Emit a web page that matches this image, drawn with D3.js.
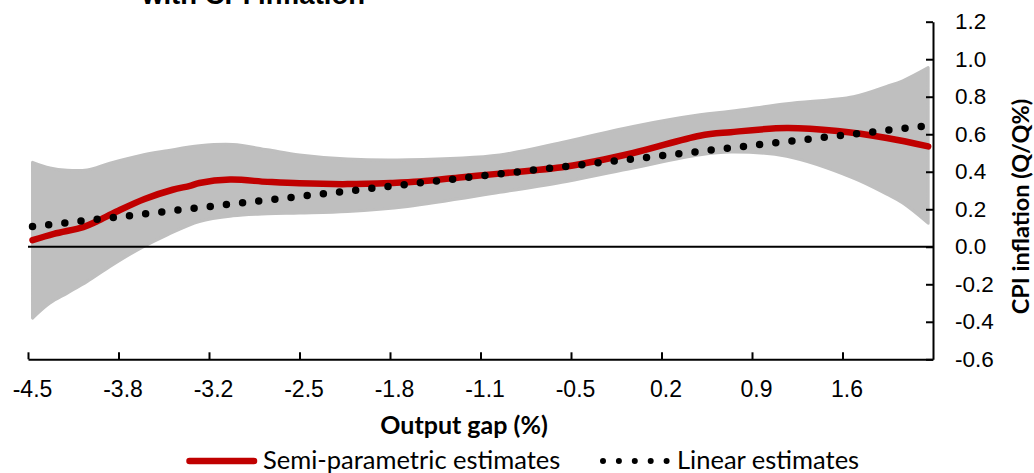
<!DOCTYPE html>
<html>
<head>
<meta charset="utf-8">
<script src="https://cdn.jsdelivr.net/npm/d3@7"></script>
<style>
  html, body { margin: 0; padding: 0; background: #fff; }
  svg { display: block; }
</style>
</head>
<body>
<svg id="chart" width="1034" height="473"></svg>
<script>
// Output-gap category grid (100 evenly spaced categories)
const gapStart = -4.5;
const gapStep = 0.0678;
const nCats = 100;
const labelEvery = 10;

const xTickLabels = ["-4.5", "-3.8", "-3.2", "-2.5", "-1.8", "-1.1", "-0.5", "0.2", "0.9", "1.6"];
const yTickValues = [-0.6, -0.4, -0.2, 0.0, 0.2, 0.4, 0.6, 0.8, 1.0, 1.2];
const yTickLabels = ["-0.6", "-0.4", "-0.2", "0.0", "0.2", "0.4", "0.6", "0.8", "1.0", "1.2"];

// Semi-parametric estimate
const semiGap = [-4.50, -4.34, -4.12, -4.02, -3.87, -3.66, -3.45, -3.32, -3.25, -3.02, -2.74, -2.50,
                 -2.14, -1.82, -1.60, -1.28, -1.00, -0.50, 0.00, 0.50, 0.73, 1.15, 1.53, 1.90, 2.21];
const semiVal = [0.035, 0.069, 0.105, 0.135, 0.188, 0.255, 0.304, 0.325, 0.340, 0.358, 0.346, 0.338,
                 0.334, 0.340, 0.348, 0.371, 0.390, 0.428, 0.500, 0.592, 0.611, 0.633, 0.617, 0.580, 0.535];

// Confidence band around the semi-parametric estimate
const bandGap   = [-4.50, -4.37, -4.24, -4.09, -3.92, -3.69, -3.49, -3.25, -3.00, -2.74, -2.50, -2.14,
                   -1.69, -1.00, -0.50, 0.00, 0.50, 0.73, 1.15, 1.65, 1.90, 2.02, 2.21];
const bandUpper = [0.450, 0.420, 0.408, 0.410, 0.446, 0.487, 0.512, 0.538, 0.545, 0.517, 0.490, 0.468,
                   0.464, 0.490, 0.562, 0.642, 0.704, 0.722, 0.763, 0.800, 0.855, 0.885, 0.955];
const bandLower = [-0.380, -0.300, -0.247, -0.185, -0.105, -0.007, 0.064, 0.135, 0.165, 0.176, 0.180, 0.188,
                   0.215, 0.290, 0.348, 0.420, 0.490, 0.505, 0.482, 0.366, 0.280, 0.233, 0.126];

// Linear estimate
const linearGap = [-4.500, -3.822, -3.144, -2.466, -1.788, -1.110, -0.432, 0.246, 0.924, 1.602, 2.212];
const linearVal = [0.108, 0.162, 0.217, 0.271, 0.325, 0.380, 0.434, 0.488, 0.543, 0.597, 0.646];

const RED = "#C00000";
const GREY = "#BFBFBF";
const ARIAL = "'Liberation Sans', Arial, sans-serif";
const CAL = "Lato, 'Open Sans', sans-serif";

const svg = d3.select("#chart");

const plot = { left: 28, right: 933, top: 21.7, bottom: 359.3 };

const x = d3.scaleLinear()
  .domain([gapStart - gapStep / 2, gapStart + (nCats - 0.5) * gapStep])
  .range([plot.left, plot.right]);

const y = d3.scaleLinear()
  .domain([-0.6, 1.2])
  .range([plot.bottom, plot.top]);

// Band
const upperPts = bandGap.map((g, i) => [g, bandUpper[i]]);
const lowerPts = bandGap.map((g, i) => [g, bandLower[i]]).reverse();
const bandLine = d3.line().x(d => x(d[0])).y(d => y(d[1])).curve(d3.curveCatmullRom.alpha(0.5));
const bandPath = bandLine(upperPts) + "L" + bandLine(lowerPts).slice(1) + "Z";
svg.append("path")
  .attr("d", bandPath)
  .attr("fill", GREY)
  .attr("stroke", GREY)
  .attr("stroke-width", 3)
  .attr("stroke-linejoin", "round");

// Zero line
svg.append("line")
  .attr("x1", plot.left).attr("x2", plot.right)
  .attr("y1", y(0)).attr("y2", y(0))
  .attr("stroke", "#000").attr("stroke-width", 2);

// Semi-parametric curve
svg.append("path")
  .datum(semiGap.map((g, i) => [g, semiVal[i]]))
  .attr("d", d3.line().x(d => x(d[0])).y(d => y(d[1])).curve(d3.curveCatmullRom.alpha(0.5)))
  .attr("fill", "none")
  .attr("stroke", RED)
  .attr("stroke-width", 6.5)
  .attr("stroke-linecap", "round")
  .attr("stroke-linejoin", "round");

// Linear estimate, round-dot line
svg.append("path")
  .datum(linearGap.map((g, i) => [g, linearVal[i]]))
  .attr("d", d3.line().x(d => x(d[0])).y(d => y(d[1])))
  .attr("fill", "none")
  .attr("stroke", "#000")
  .attr("stroke-width", 7.5)
  .attr("stroke-linecap", "round")
  .attr("stroke-dasharray", "0 16.26");

// X axis (ticks at category-group boundaries)
const boundaries = d3.range(0, nCats, labelEvery).map(i => gapStart + (i - 0.5) * gapStep);
const xAxis = svg.append("g")
  .attr("transform", `translate(0,${plot.bottom})`)
  .call(d3.axisBottom(x).tickValues(boundaries).tickSizeInner(-7).tickSizeOuter(0).tickFormat(""));
xAxis.select(".domain").attr("stroke", "#000").attr("stroke-width", 2);
xAxis.selectAll(".tick line").attr("stroke", "#000").attr("stroke-width", 2);

// X tick labels centred on their categories
svg.append("g")
  .selectAll("text")
  .data(xTickLabels)
  .join("text")
  .attr("x", (d, i) => x(gapStart + i * labelEvery * gapStep))
  .attr("y", 396.5)
  .attr("text-anchor", "middle")
  .attr("font-family", ARIAL)
  .attr("font-size", 23)
  .attr("fill", "#000")
  .text(d => d);

// Y axis on the right
const yAxis = svg.append("g")
  .attr("transform", `translate(${plot.right},0)`)
  .call(d3.axisRight(y).tickValues(yTickValues).tickSizeInner(-7).tickSizeOuter(0)
    .tickPadding(22).tickFormat((d, i) => yTickLabels[i]));
yAxis.select(".domain").attr("stroke", "#000").attr("stroke-width", 2);
yAxis.selectAll(".tick line").attr("stroke", "#000").attr("stroke-width", 2);
yAxis.selectAll(".tick text")
  .attr("font-family", ARIAL)
  .attr("font-size", 22.5)
  .attr("fill", "#000");

// Axis titles
svg.append("text")
  .attr("x", 464).attr("y", 434)
  .attr("text-anchor", "middle")
  .attr("font-family", CAL).attr("font-weight", "bold").attr("font-size", 25)
  .text("Output gap (%)");

svg.append("text")
  .attr("transform", "translate(1028.5,206.5) rotate(-90)")
  .attr("text-anchor", "middle")
  .attr("font-family", CAL).attr("font-weight", "bold").attr("font-size", 23.5)
  .text("CPI inflation (Q/Q%)");

// Chart title (second line, mostly above the frame)
svg.append("text")
  .attr("x", 142).attr("y", 4)
  .attr("font-family", ARIAL).attr("font-weight", "bold").attr("font-size", 27.5)
  .text("with CPI inflation");

// Legend
const legend = svg.append("g");
legend.append("line")
  .attr("x1", 189.5).attr("x2", 254).attr("y1", 461).attr("y2", 461)
  .attr("stroke", RED).attr("stroke-width", 6.5).attr("stroke-linecap", "round");
legend.append("text")
  .attr("x", 263).attr("y", 469)
  .attr("font-family", CAL).attr("font-size", 25.5)
  .text("Semi-parametric estimates");
legend.append("line")
  .attr("x1", 603).attr("x2", 667).attr("y1", 461).attr("y2", 461)
  .attr("stroke", "#000").attr("stroke-width", 6).attr("stroke-linecap", "round")
  .attr("stroke-dasharray", "0 15.9");
legend.append("text")
  .attr("x", 677).attr("y", 469)
  .attr("font-family", CAL).attr("font-size", 25.5)
  .text("Linear estimates");
</script>
</body>
</html>
